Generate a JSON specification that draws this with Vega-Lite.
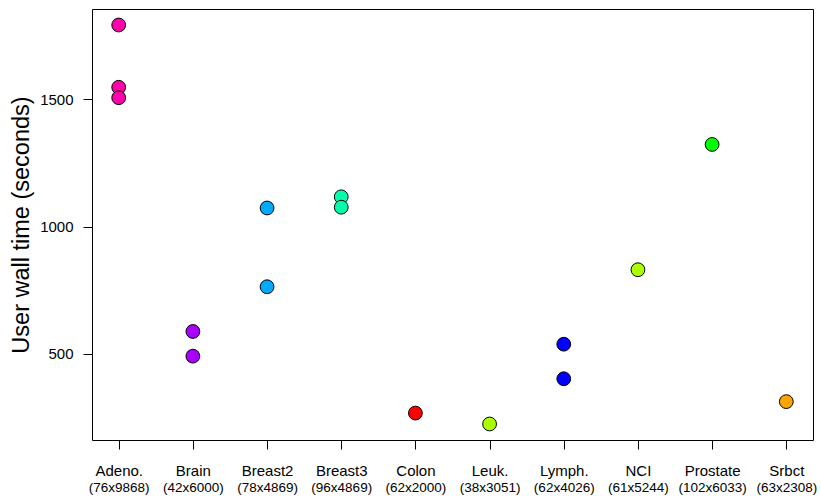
{
  "$schema": "https://vega.github.io/schema/vega-lite/v6.json",
  "autosize": {"type": "none"},
  "padding": {"left": 92, "top": 9, "right": 8, "bottom": 62},
  "width": 721,
  "height": 431,
  "background": "white",
  "config": {
    "font": "Liberation Sans",
    "view": {"stroke": "#000000", "strokeWidth": 1},
    "axis": {"grid": false, "domain": false, "tickColor": "#000000", "labelColor": "#000000", "titleColor": "#000000", "labelFont": "Liberation Sans", "titleFont": "Liberation Sans"}
  },
  "data": {
    "values": [
      {"ds": "Adeno.", "t": 1793},
      {"ds": "Adeno.", "t": 1548},
      {"ds": "Adeno.", "t": 1507},
      {"ds": "Brain", "t": 587},
      {"ds": "Brain", "t": 490},
      {"ds": "Breast2", "t": 1073},
      {"ds": "Breast2", "t": 763},
      {"ds": "Breast3", "t": 1117},
      {"ds": "Breast3", "t": 1076},
      {"ds": "Colon", "t": 266},
      {"ds": "Leuk.", "t": 223},
      {"ds": "Lymph.", "t": 537},
      {"ds": "Lymph.", "t": 401},
      {"ds": "NCI", "t": 830},
      {"ds": "Prostate", "t": 1323},
      {"ds": "Srbct", "t": 311}
    ]
  },
  "encoding": {
    "y": {
      "field": "t",
      "type": "quantitative",
      "scale": {"domain": [160, 1856], "nice": false, "zero": false},
      "axis": {"values": [500, 1000, 1500], "format": "d", "tickSize": 9, "labelPadding": 10, "labelFontSize": 15, "title": "User wall time (seconds)", "titleFontSize": 23.5, "titleFontWeight": "normal", "titlePadding": 6}
    }
  },
  "layer": [
    {
      "mark": {"type": "point", "filled": true, "opacity": 1, "size": 190, "stroke": "#000000", "strokeWidth": 1, "shape": "circle"},
      "encoding": {
        "x": {"field": "ds", "type": "nominal", "sort": ["Adeno.", "Brain", "Breast2", "Breast3", "Colon", "Leuk.", "Lymph.", "NCI", "Prostate", "Srbct"], "scale": {"type": "point", "padding": 0.36}, "title": null,
          "axis": {"orient": "bottom", "labelAngle": 0, "tickSize": 9, "labelPadding": 14, "labelFontSize": 15}},
        "color": {
          "field": "ds",
          "type": "nominal",
          "legend": null,
          "scale": {
            "domain": ["Adeno.", "Brain", "Breast2", "Breast3", "Colon", "Leuk.", "Lymph.", "NCI", "Prostate", "Srbct"],
            "range": ["#FF00AA", "#AA00FF", "#00AAFF", "#00FFAA", "#FF0000", "#AAFF00", "#0000FF", "#AAFF00", "#00FF00", "#FFA500"]
          }
        }
      }
    },
    {
      "mark": {"type": "point", "opacity": 0},
      "encoding": {
        "x": {"field": "ds", "type": "nominal", "sort": ["Adeno.", "Brain", "Breast2", "Breast3", "Colon", "Leuk.", "Lymph.", "NCI", "Prostate", "Srbct"], "scale": {"type": "point", "padding": 0.36}, "title": null,
          "axis": {"orient": "bottom", "labelAngle": 0, "ticks": false, "labelPadding": 40, "labelFontSize": 13.5,
            "labelExpr": "['(76x9868)','(42x6000)','(78x4869)','(96x4869)','(62x2000)','(38x3051)','(62x4026)','(61x5244)','(102x6033)','(63x2308)'][indexof(['Adeno.','Brain','Breast2','Breast3','Colon','Leuk.','Lymph.','NCI','Prostate','Srbct'], datum.value)]"}}
      }
    }
  ],
  "resolve": {"axis": {"x": "independent"}}
}
